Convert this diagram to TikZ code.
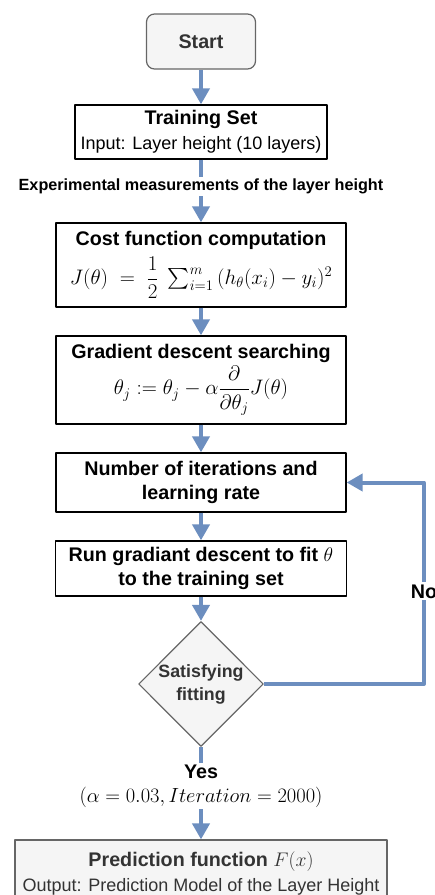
\RequirePackage{fix-cm}
\documentclass[tikz,border=0pt]{standalone}
\usepackage{amsmath}
\usepackage[no-math]{fontspec}
\setmainfont{Liberation Sans}
\usetikzlibrary{arrows.meta,shapes.geometric,positioning}

\definecolor{flowblue}{HTML}{6C8EBF}
\definecolor{softgray}{HTML}{F5F5F5}
\definecolor{edgegray}{HTML}{666666}
\definecolor{textgray}{HTML}{333333}

\newcommand{\boxtitle}{\bfseries\fontsize{19.7}{24}\selectfont}
\newcommand{\boxtext}{\fontsize{18}{25}\selectfont}
\newcommand{\edgetext}{\bfseries\fontsize{16.2}{19}\selectfont}
\newcommand{\bigmath}{\fontsize{21}{26}\selectfont}

\tikzset{
    box/.style={draw=black, line width=1.3pt, fill=white, align=center, inner sep=0pt},
    greybox/.style={draw=edgegray, line width=1.2pt, fill=softgray, text=textgray, align=center, inner sep=0pt},
    flow/.style={draw=flowblue, line width=4pt, -{Triangle[length=16pt,width=17pt]}},
    lbl/.style={fill=white, inner sep=2pt, align=center}
}

\begin{document}
\begin{tikzpicture}[x=1pt, y=-1pt, line join=round]

% --- Page frame ---
\clip (0,0) rectangle (435,895);

% --- Main column ---
\node[greybox, rounded corners=8pt, minimum width=109pt, minimum height=55pt, font=\boxtitle] (start) at (201,41.5) {Start};

\node[box, minimum width=252pt, minimum height=54pt, font=\boxtext] (train) at (201,132)
    {{\boxtitle Training Set}\\Input: Layer height (10 layers)};

\node[box, minimum width=290pt, minimum height=84pt, font=\boxtitle] (cost) at (201,265)
    {Cost function computation\\[6pt]
     {\bigmath $J(\theta)\;=\;\dfrac{1}{2}\;\sum_{i=1}^{m}\,(h_\theta(x_i)-y_i)^2$}};

\node[box, minimum width=290pt, minimum height=88pt, font=\boxtitle] (grad) at (201,380)
    {Gradient descent searching\\[2pt]
     {\bigmath $\theta_j:=\theta_j-\alpha\dfrac{\partial}{\partial\theta_j}J(\theta)$}};

\node[box, minimum width=290pt, minimum height=59pt, font=\boxtitle] (iter) at (201,482.5)
    {Number of iterations and\\learning rate};

\node[box, minimum width=291pt, minimum height=55pt, font=\boxtitle] (run) at (201,568.5)
    {Run gradiant descent to fit $\theta$\\to the training set};

% decision
\node[greybox, shape=diamond, minimum width=121pt, minimum height=125pt,
      font=\bfseries\fontsize{17.8}{23}\selectfont] (check) at (201,684) {Satisfying\\fitting};

% output (runs off the bottom edge)
\node[greybox, minimum width=372pt, minimum height=64pt, font=\boxtext, text depth=0pt] (pred) at (201,872)
    {{\boxtitle Prediction function $F(x)$}\\Output: Prediction Model of the Layer Height};

% corner of the loop back
\coordinate (loop) at (424,482.5);

% --- Connectors ---
\draw[flow] (start) -- (train);
\draw[flow] (train) -- node[lbl, pos=0.43, font=\edgetext] {Experimental measurements of the layer height} (cost);
\draw[flow] (cost) -- (grad);
\draw[flow] (grad) -- (iter);
\draw[flow] (iter) -- (run);
\draw[flow] (run) -- (check);
\draw[flow] (check.east) -| node[lbl, pos=0.73, font=\boxtitle] {No} (loop) -- (iter.east);
\draw[flow] (check) -- node[lbl, pos=0.42, font=\boxtitle]
    {Yes\\{\mdseries\fontsize{20.5}{25}\selectfont $(\alpha=0.03,Iteration=2000)$}} (pred);

\end{tikzpicture}
\end{document}
